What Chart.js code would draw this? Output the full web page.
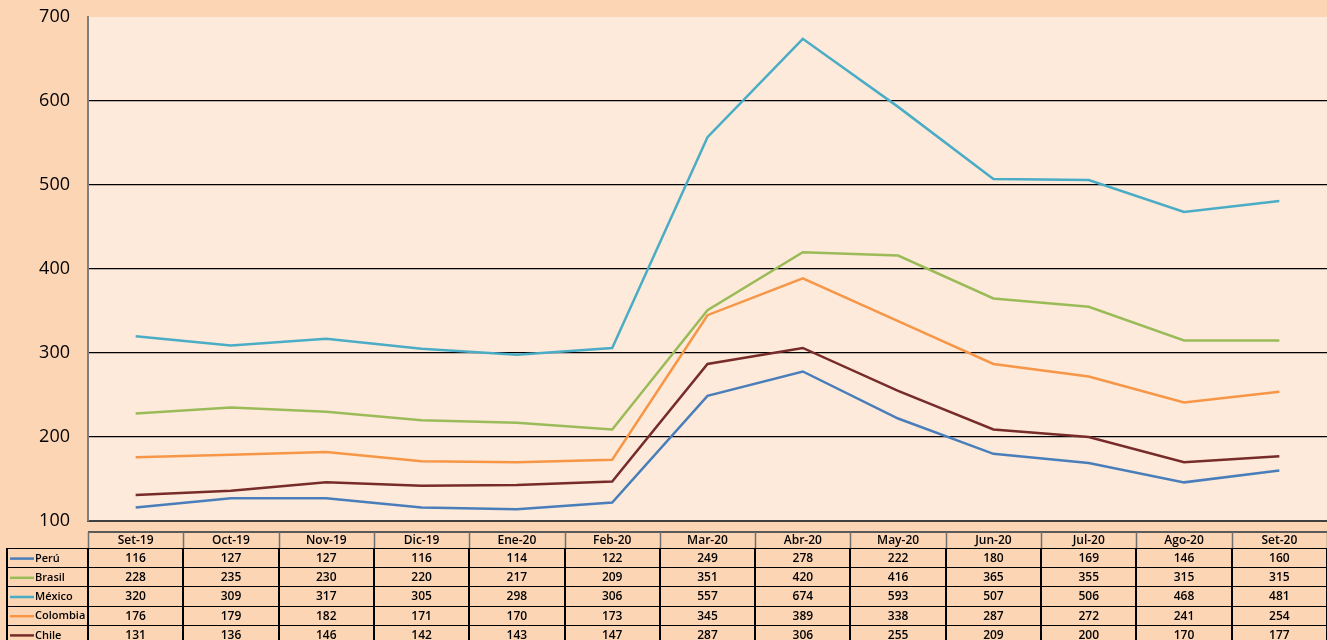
<!DOCTYPE html>
<html>
<head>
<meta charset="utf-8">
<script src="https://cdn.jsdelivr.net/npm/chart.js@4.4.1/dist/chart.umd.min.js"></script>
<style>
  html, body { margin: 0; padding: 0; background: #fcd5b5; }
  #wrap { width: 1327px; height: 640px; }
</style>
</head>
<body>
<div id="wrap"><canvas id="c" width="1327" height="640"></canvas></div>
<script>
const categories = ["Set-19","Oct-19","Nov-19","Dic-19","Ene-20","Feb-20","Mar-20","Abr-20","May-20","Jun-20","Jul-20","Ago-20","Set-20"];
const peru     = [116,127,127,116,114,122,249,278,222,180,169,146,160];
const brasil   = [228,235,230,220,217,209,351,420,416,365,355,315,315];
const mexico   = [320,309,317,305,298,306,557,674,593,507,506,468,481];
const colombia = [176,179,182,171,170,173,345,389,338,287,272,241,254];
const chile    = [131,136,146,142,143,147,287,306,255,209,200,170,177];
const yTicks   = [100,200,300,400,500,600,700];

const series = [
  { label: "Perú",     data: peru,     color: "#4a7ebb" },
  { label: "Brasil",   data: brasil,   color: "#9bbb59" },
  { label: "México",   data: mexico,   color: "#4bacc6" },
  { label: "Colombia", data: colombia, color: "#f79646" },
  { label: "Chile",    data: chile,    color: "#772c2a" }
];

// page + plot backgrounds
const bgPlugin = {
  id: "bg",
  beforeDraw(chart) {
    const { ctx, chartArea: a } = chart;
    ctx.save();
    ctx.fillStyle = "#fcd5b5";
    ctx.fillRect(0, 0, chart.width, chart.height);
    ctx.fillStyle = "#fdeada";
    ctx.fillRect(a.left, a.top, a.right - a.left, a.bottom - a.top);
    ctx.restore();
  }
};

// data table under the plot, columns taken from the x scale
const tablePlugin = {
  id: "dataTable",
  afterDraw(chart) {
    const { ctx } = chart;
    const x = chart.scales.x;
    const step = (x.right - x.left) / categories.length;
    const headTop = 532, headH = 16, rowH = 19.2;
    const legendLeft = 7;
    const bottom = headTop + headH + rowH * series.length;

    ctx.save();
    ctx.font = "600 12px 'Open Sans', sans-serif";
    ctx.textBaseline = "middle";

    // header
    ctx.strokeStyle = "#595959";
    ctx.lineWidth = 2;
    ctx.beginPath();
    ctx.moveTo(x.left, headTop); ctx.lineTo(x.right, headTop);
    ctx.stroke();
    ctx.lineWidth = 1.5;
    ctx.strokeStyle = "#6f6f6f";
    for (let i = 0; i <= categories.length; i++) {
      const px = Math.round(x.left + i * step) + 0.5;
      ctx.beginPath();
      ctx.moveTo(px, headTop); ctx.lineTo(px, headTop + headH);
      ctx.stroke();
    }
    ctx.fillStyle = "#000";
    ctx.textAlign = "center";
    categories.forEach((c, i) => {
      ctx.fillText(c, x.getPixelForValue(i), headTop + headH / 2 + 1);
    });

    // body grid
    ctx.strokeStyle = "#000";
    ctx.lineWidth = 1.2;
    for (let r = 0; r <= series.length; r++) {
      const py = Math.round(headTop + headH + r * rowH) + 0.5;
      ctx.beginPath();
      ctx.moveTo(legendLeft, py); ctx.lineTo(x.right, py);
      ctx.stroke();
    }
    ctx.lineWidth = 2;
    const vx = [legendLeft];
    for (let i = 0; i <= categories.length; i++) vx.push(x.left + i * step);
    vx.forEach(v => {
      const px = Math.round(v);
      ctx.beginPath();
      ctx.moveTo(px, headTop + headH); ctx.lineTo(px, bottom);
      ctx.stroke();
    });

    // rows
    series.forEach((s, r) => {
      const cy = headTop + headH + r * rowH + rowH / 2 + 1;
      ctx.strokeStyle = s.color;
      ctx.lineWidth = 2.5;
      ctx.beginPath();
      ctx.moveTo(legendLeft + 3, cy); ctx.lineTo(legendLeft + 27, cy);
      ctx.stroke();
      ctx.fillStyle = "#000";
      ctx.textAlign = "left";
      ctx.font = "600 11px 'Open Sans', sans-serif";
      ctx.fillText(s.label, legendLeft + 28, cy);
      ctx.font = "600 12px 'Open Sans', sans-serif";
      ctx.textAlign = "center";
      s.data.forEach((v, i) => ctx.fillText(String(v), x.getPixelForValue(i), cy));
    });
    ctx.restore();
  }
};

new Chart(document.getElementById("c"), {
  type: "line",
  data: {
    labels: categories,
    datasets: series.map(s => ({
      label: s.label,
      data: s.data,
      borderColor: s.color,
      backgroundColor: s.color,
      borderWidth: 2.5,
      pointRadius: 0,
      tension: 0
    }))
  },
  options: {
    responsive: false,
    animation: false,
    layout: { padding: { top: 17, bottom: 119, left: 0, right: 0 } },
    plugins: { legend: { display: false }, tooltip: { enabled: false } },
    scales: {
      x: {
        offset: true,
        grid: { display: false },
        ticks: { display: false },
        border: { display: true, color: "#404040", width: 2 },
        afterFit(s) { s.height = 0; s.paddingLeft = 0; s.paddingRight = 0; }
      },
      y: {
        min: yTicks[0],
        max: yTicks[yTicks.length - 1],
        afterBuildTicks(s) { s.ticks = yTicks.map(v => ({ value: v })); },
        grid: {
          drawTicks: false,
          color: c => (c.tick && (c.tick.value === 700 || c.tick.value === 100)) ? "rgba(0,0,0,0)" : "#000",
          lineWidth: 1.2
        },
        border: { display: true, color: "#7f7f7f", width: 2 },
        ticks: {
          color: "#000",
          padding: 18,
          font: { size: 18, family: "'Open Sans', sans-serif" }
        },
        afterFit(s) { s.width = 88; s.paddingTop = 0; s.paddingBottom = 0; }
      }
    }
  },
  plugins: [bgPlugin, tablePlugin]
});
</script>
</body>
</html>
